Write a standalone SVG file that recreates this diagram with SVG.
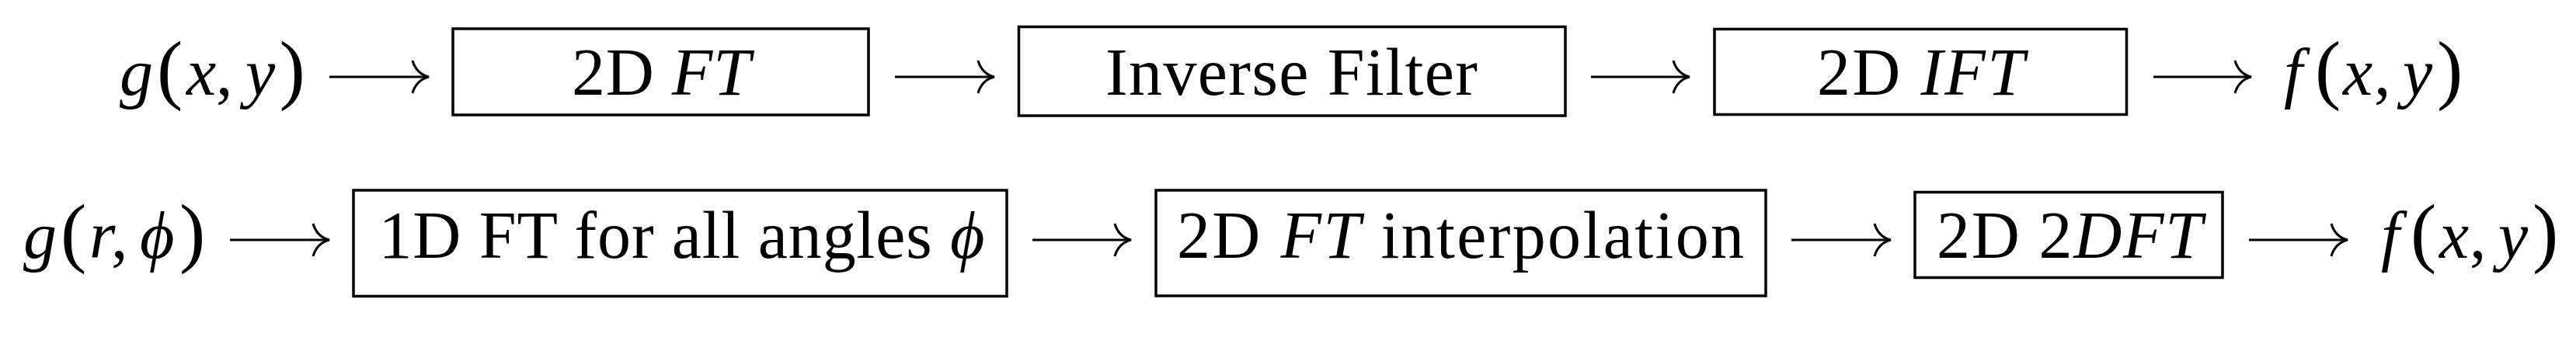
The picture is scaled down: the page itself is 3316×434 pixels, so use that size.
<svg xmlns="http://www.w3.org/2000/svg" width="3316" height="434" viewBox="0 0 3316 434">
<style>
.t{font-family:"Liberation Serif","DejaVu Serif",serif;font-size:86px;fill:#000}
.i{font-style:italic}
.p{font-size:100px;font-style:normal}
.box{fill:none;stroke:#000;stroke-width:3.5}
.arr{fill:none;stroke:#000;stroke-width:3}
</style>
<defs>
<marker id="ah" markerUnits="userSpaceOnUse" viewBox="-26 -26 30 52" markerWidth="30" markerHeight="52" refX="0" refY="0" orient="auto" overflow="visible">
<path d="M-21,-21 C-18,-10 -10,-2 0,0 C-10,2 -18,10 -21,21" fill="none" stroke="#000" stroke-width="3"/>
</marker>
</defs>
<rect width="3316" height="434" fill="#fff"/>
<g id="g_xy">
<text class="t" y="122"><tspan class="i" x="154">g</tspan><tspan class="p" x="202">(</tspan><tspan class="i" x="240">x</tspan><tspan x="278">,</tspan><tspan class="i" x="316">y</tspan><tspan class="p" x="359.5">)</tspan></text>
</g>
<g id="ft2d">
<rect class="box" x="583" y="37" width="535" height="111"/>
<text class="t" x="736" y="122" textLength="230">2D <tspan class="i">FT</tspan></text>
</g>
<g id="inverse_filter">
<rect class="box" x="1311.5" y="34.5" width="703.5" height="114.5"/>
<text class="t" x="1423" y="122" textLength="479">Inverse Filter</text>
</g>
<g id="ift2d">
<rect class="box" x="2207" y="37.5" width="530.5" height="110"/>
<text class="t" x="2339" y="122" textLength="267">2D <tspan class="i">IFT</tspan></text>
</g>
<g id="f_xy_1">
<text class="t" y="122"><tspan class="i" x="2940">f</tspan><tspan class="p" x="2980">(</tspan><tspan class="i" x="3016">x</tspan><tspan x="3056">,</tspan><tspan class="i" x="3093">y</tspan><tspan class="p" x="3137">)</tspan></text>
</g>
<g id="g_rphi">
<text class="t" y="332"><tspan class="i" x="30">g</tspan><tspan class="p" x="78">(</tspan><tspan class="i" x="115">r</tspan><tspan x="143">,</tspan><tspan class="i" x="180">ϕ</tspan><tspan class="p" x="231">)</tspan></text>
</g>
<g id="ft1d_angles">
<rect class="box" x="455" y="245" width="841" height="136.5"/>
<text class="t" x="487.5" y="332" textLength="780">1D FT for all angles <tspan class="i">ϕ</tspan></text>
</g>
<g id="ft2d_interp">
<rect class="box" x="1488" y="245" width="785" height="136"/>
<text class="t" x="1515" y="332" textLength="730">2D <tspan class="i">FT</tspan> interpolation</text>
</g>
<g id="dft2d">
<rect class="box" x="2465" y="247.5" width="396" height="110"/>
<text class="t" x="2493" y="332" textLength="342">2D 2<tspan class="i">DFT</tspan></text>
</g>
<g id="f_xy_2">
<text class="t" y="332"><tspan class="i" x="3065">f</tspan><tspan class="p" x="3103">(</tspan><tspan class="i" x="3140">x</tspan><tspan x="3179">,</tspan><tspan class="i" x="3216">y</tspan><tspan class="p" x="3260">)</tspan></text>
</g>
<g id="connectors">
<path class="arr" marker-end="url(#ah)" d="M424,99 H552"/>
<path class="arr" marker-end="url(#ah)" d="M1152,99 H1280"/>
<path class="arr" marker-end="url(#ah)" d="M2048,99 H2175"/>
<path class="arr" marker-end="url(#ah)" d="M2772,99 H2898"/>
<path class="arr" marker-end="url(#ah)" d="M296,309 H424"/>
<path class="arr" marker-end="url(#ah)" d="M1329,309 H1456"/>
<path class="arr" marker-end="url(#ah)" d="M2306,309 H2434"/>
<path class="arr" marker-end="url(#ah)" d="M2895,309 H3022"/>
</g>
</svg>
